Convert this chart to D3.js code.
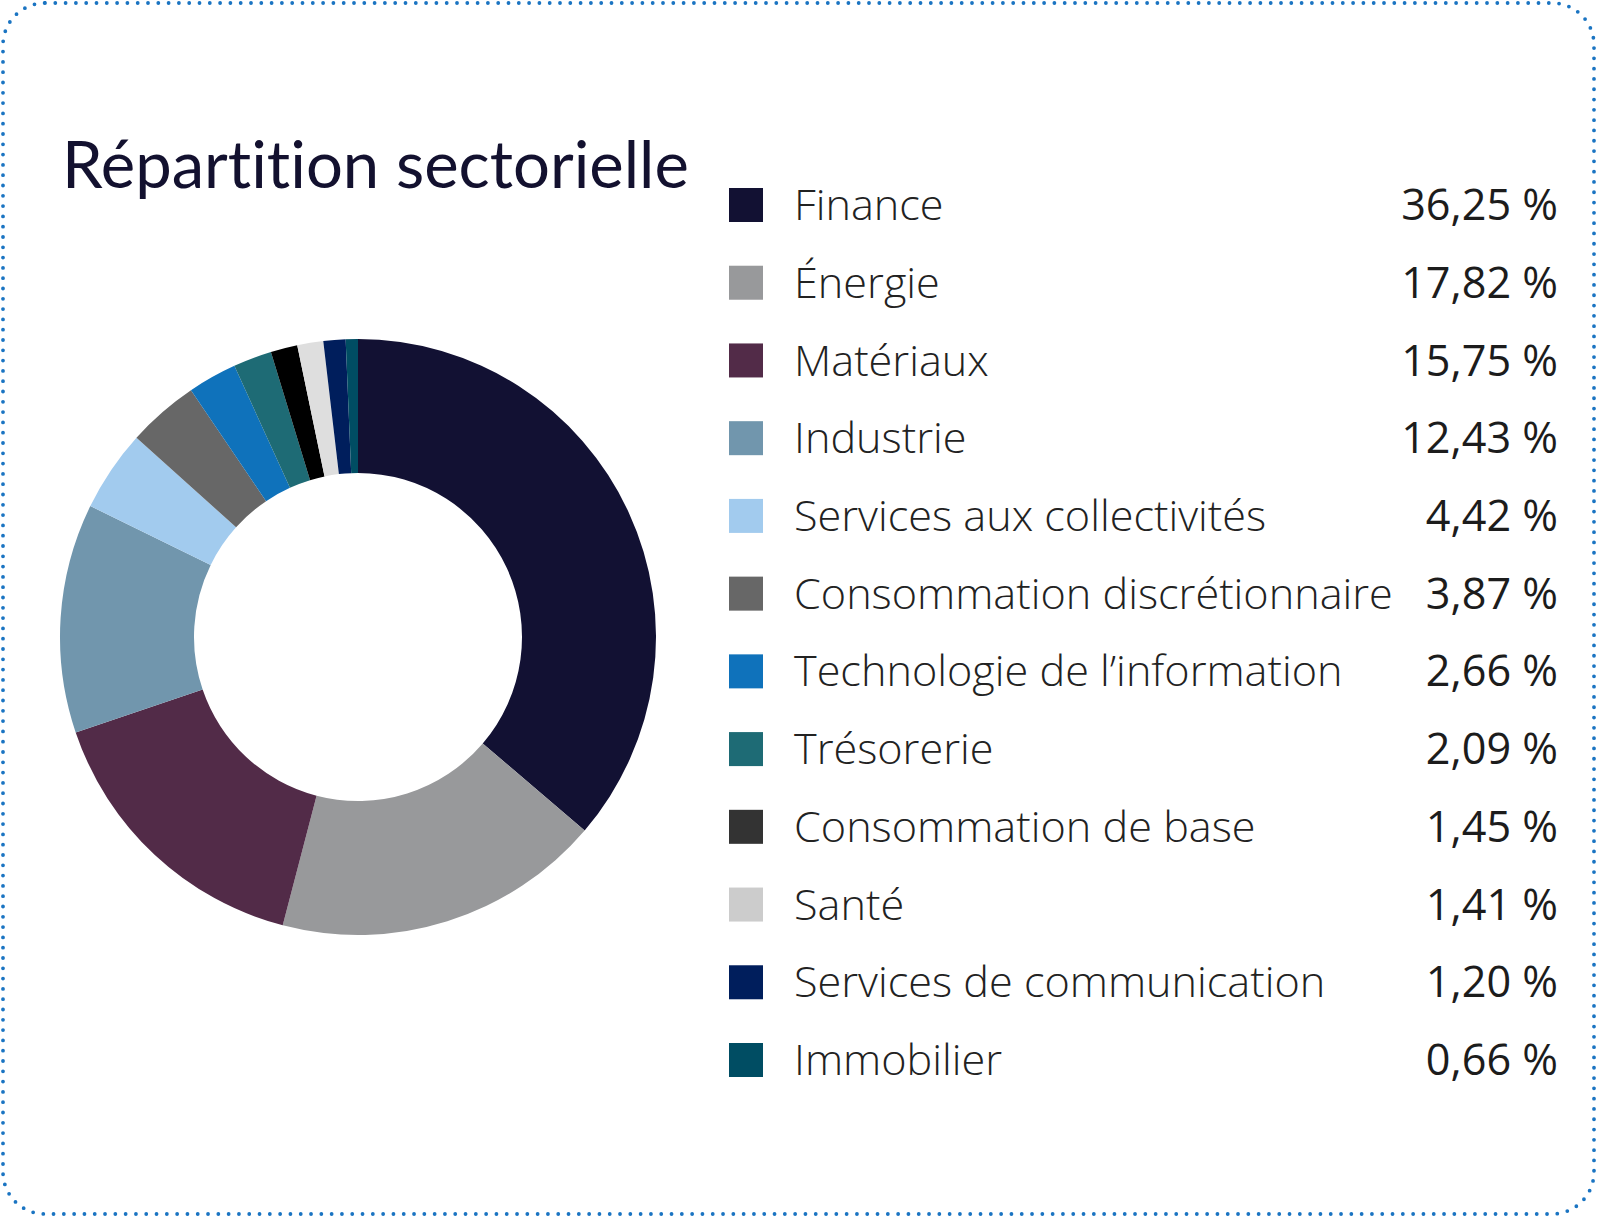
<!DOCTYPE html>
<html>
<head>
<meta charset="utf-8">
<script src="https://cdn.jsdelivr.net/npm/d3@7"></script>
<style>
  html, body { margin: 0; padding: 0; background: #fff; }
  svg { display: block; }
</style>
</head>
<body>
<svg id="chart"></svg>
<script>
  // Data
  const sectors = [
    "Finance", "Énergie", "Matériaux", "Industrie", "Services aux collectivités",
    "Consommation discrétionnaire", "Technologie de l’information", "Trésorerie",
    "Consommation de base", "Santé", "Services de communication", "Immobilier"
  ];
  const weights = [36.25, 17.82, 15.75, 12.43, 4.42, 3.87, 2.66, 2.09, 1.45, 1.41, 1.20, 0.66];
  const sliceColors = [
    "#121133", "#98999b", "#522b48", "#7196ad", "#a2cbee", "#676767",
    "#0f72bb", "#1e6b75", "#000000", "#dedede", "#001e5c", "#004d63"
  ];
  const swatchColors = [
    "#121133", "#98999b", "#522b48", "#7196ad", "#a2cbee", "#676767",
    "#0f72bb", "#1e6b75", "#333333", "#cccccc", "#001e5c", "#004d63"
  ];
  const title = "Répartition sectorielle";

  const W = 1597, H = 1217;
  const fmt = v => v.toFixed(2).replace(".", ",") + " %";

  const svg = d3.select("#chart")
    .attr("width", W)
    .attr("height", H);

  // dotted rounded frame
  svg.append("rect")
    .attr("x", 3).attr("y", 3)
    .attr("width", W - 6).attr("height", H - 6)
    .attr("rx", 42).attr("ry", 42)
    .attr("fill", "none")
    .attr("stroke", "#1a74c2")
    .attr("stroke-width", 3.8)
    .attr("stroke-linecap", "round")
    .attr("stroke-dasharray", "0 10.3");

  // title, sized to the reference width
  const titleText = svg.append("text")
    .attr("x", 62)
    .attr("y", 188)
    .attr("font-family", "Lato, 'Noto Sans', sans-serif")
    .attr("font-size", 66)
    .attr("fill", "#13112f")
    .style("font-variant-ligatures", "none")
    .text(title);
  const tw = titleText.node().getComputedTextLength();
  titleText.attr("font-size", 66 * 627 / tw);

  // donut
  const cx = 358, cy = 637, outerR = 298, innerR = 164;
  const pie = d3.pie().sort(null).value(d => d.value);
  const arc = d3.arc().innerRadius(innerR).outerRadius(outerR);
  const rows = sectors.map((s, i) => ({ name: s, value: weights[i], i }));

  svg.append("g")
    .attr("transform", `translate(${cx},${cy})`)
    .selectAll("path")
    .data(pie(rows))
    .join("path")
    .attr("d", arc)
    .attr("fill", d => sliceColors[d.data.i]);

  // legend
  const y = d3.scalePoint()
    .domain(sectors)
    .range([205, 1060]);

  const legend = svg.append("g")
    .selectAll("g")
    .data(rows)
    .join("g")
    .attr("transform", d => `translate(0,${y(d.name)})`);

  legend.append("rect")
    .attr("x", 729).attr("y", -17)
    .attr("width", 34).attr("height", 34)
    .attr("fill", d => swatchColors[d.i]);

  legend.append("text")
    .attr("x", 794)
    .attr("dy", "0.35em")
    .attr("font-family", "'Open Sans', 'Noto Sans', sans-serif")
    .attr("font-weight", 300)
    .attr("font-size", 43.2)
    .attr("fill", "#222")
    .text(d => d.name);

  legend.append("text")
    .attr("x", 1558)
    .attr("dy", "0.35em")
    .attr("text-anchor", "end")
    .attr("font-family", "'Open Sans', 'Noto Sans', sans-serif")
    .attr("font-weight", 400)
    .attr("font-size", 43.2)
    .attr("fill", "#1c1c1c")
    .text(d => fmt(d.value));
</script>
</body>
</html>
